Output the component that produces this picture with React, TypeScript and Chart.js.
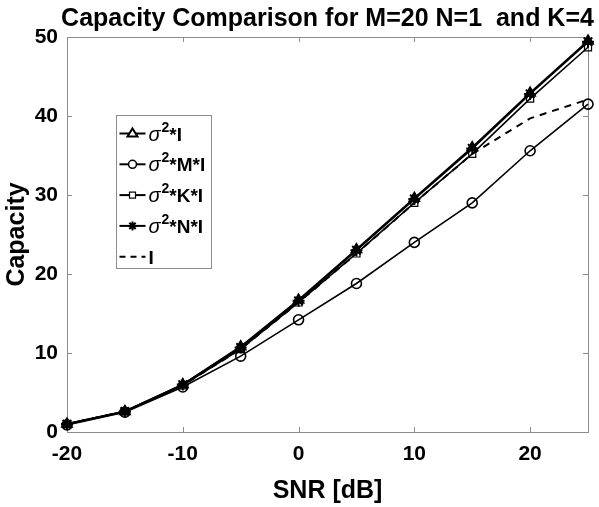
import React, { useEffect, useRef } from "react";
import { Chart, registerables } from "chart.js";

Chart.register(...registerables);

// ---- data ----
const snrDb = [-20, -15, -10, -5, 0, 5, 10, 15, 20, 25];
const capSigmaI = [1.0, 2.6, 6.0, 10.8, 16.7, 23.1, 29.6, 36.0, 42.9, 49.5];
const capSigmaMI = [0.9, 2.5, 5.7, 9.6, 14.2, 18.8, 24.0, 29.0, 35.6, 41.5];
const capSigmaKI = [1.0, 2.6, 5.9, 10.5, 16.4, 22.6, 29.0, 35.2, 42.2, 48.7];
const capSigmaNI = [1.0, 2.6, 6.0, 10.7, 16.6, 23.0, 29.5, 35.9, 42.8, 49.4];
const capI = [1.0, 2.6, 5.9, 10.5, 16.4, 22.6, 29.0, 35.2, 39.7, 42.1];

const xTicks = [-20, -10, 0, 10, 20];
const yTicks = [0, 10, 20, 30, 40, 50];

const titleText = "Capacity Comparison for M=20 N=1  and K=4";
const xLabel = "SNR [dB]";
const yLabel = "Capacity";
const legendLabels = ["σ^2*I", "σ^2*M*I", "σ^2*K*I", "σ^2*N*I", "I"];
const legendMarkers = ["triangle", "circle", "rect", "star", "dash"];

const FONT = '"Liberation Sans", Arial, Helvetica, sans-serif';

function pts(arr: number[]) {
  return snrDb.map((x, i) => ({ x, y: arr[i] }));
}

function drawLegendMarker(ctx: CanvasRenderingContext2D, kind: string, x: number, y: number) {
  ctx.save();
  ctx.strokeStyle = "#000";
  ctx.fillStyle = "#fff";
  ctx.lineWidth = 1.6;
  if (kind === "triangle") {
    ctx.lineWidth = 2;
    ctx.beginPath();
    ctx.moveTo(x, y - 5);
    ctx.lineTo(x + 5, y + 3);
    ctx.lineTo(x - 5, y + 3);
    ctx.closePath();
    ctx.fill();
    ctx.stroke();
  } else if (kind === "circle") {
    ctx.beginPath();
    ctx.arc(x, y, 4, 0, Math.PI * 2);
    ctx.fill();
    ctx.stroke();
  } else if (kind === "rect") {
    ctx.lineWidth = 1.2;
    ctx.fillRect(x - 3, y - 3, 6, 6);
    ctx.strokeRect(x - 3, y - 3, 6, 6);
  } else if (kind === "star") {
    ctx.lineWidth = 2;
    ctx.beginPath();
    const r = 4.5;
    for (let k = 0; k < 4; k++) {
      const a = (k * Math.PI) / 4;
      ctx.moveTo(x - r * Math.cos(a), y - r * Math.sin(a));
      ctx.lineTo(x + r * Math.cos(a), y + r * Math.sin(a));
    }
    ctx.stroke();
  }
  ctx.restore();
}

export default function App() {
  const ref = useRef<HTMLCanvasElement>(null);

  useEffect(() => {
    const canvas = ref.current;
    if (!canvas) return;

    const decor = {
      id: "matlabDecor",
      beforeDatasetsDraw(chart: any) {
        const { ctx, chartArea: a, scales } = chart;
        ctx.save();
        ctx.strokeStyle = "#8c8c8c";
        ctx.lineWidth = 1;
        ctx.strokeRect(Math.round(a.left) + 0.5, Math.round(a.top) + 0.5, Math.round(a.right - a.left), Math.round(a.bottom - a.top));
        ctx.beginPath();
        const tl = 5;
        for (const v of xTicks) {
          const px = Math.round(scales.x.getPixelForValue(v)) + 0.5;
          ctx.moveTo(px, a.bottom);
          ctx.lineTo(px, a.bottom - tl);
          ctx.moveTo(px, a.top);
          ctx.lineTo(px, a.top + tl);
        }
        for (const v of yTicks) {
          const py = Math.round(scales.y.getPixelForValue(v)) + 0.5;
          ctx.moveTo(a.left, py);
          ctx.lineTo(a.left + tl, py);
          ctx.moveTo(a.right, py);
          ctx.lineTo(a.right - tl, py);
        }
        ctx.stroke();
        ctx.restore();
      },
      afterDatasetsDraw(chart: any) {
        const { ctx, chartArea: a } = chart;
        const bx = Math.round(a.left) + 49.5;
        const by = Math.round(a.top) + 78.5;
        const bw = 95;
        const bh = 153;
        ctx.save();
        ctx.fillStyle = "#fff";
        ctx.fillRect(bx, by, bw, bh);
        ctx.strokeStyle = "#8c8c8c";
        ctx.lineWidth = 1;
        ctx.strokeRect(bx, by, bw, bh);
        legendLabels.forEach((label, i) => {
          const ry = by + 18 + i * 30.8;
          const lx0 = bx + 3;
          const lx1 = bx + 29;
          const kind = legendMarkers[i];
          ctx.strokeStyle = "#000";
          ctx.lineWidth = 2;
          ctx.setLineDash(kind === "dash" ? [6, 5] : []);
          ctx.beginPath();
          ctx.moveTo(lx0, ry);
          ctx.lineTo(lx1, ry);
          ctx.stroke();
          ctx.setLineDash([]);
          if (kind !== "dash") drawLegendMarker(ctx, kind, (lx0 + lx1) / 2, ry);
          // text
          let tx = bx + 32;
          const base = ry + 7;
          ctx.fillStyle = "#000";
          ctx.textBaseline = "alphabetic";
          ctx.textAlign = "left";
          const parts = label.split("^");
          if (parts.length === 2) {
            const sym = parts[0];
            const sup = parts[1].charAt(0);
            const rest = parts[1].slice(1);
            ctx.font = `italic 20px ${FONT}`;
            ctx.fillText(sym, tx, base);
            tx += ctx.measureText(sym).width + 1;
            ctx.font = `bold 14px ${FONT}`;
            ctx.fillText(sup, tx, base - 9);
            tx += ctx.measureText(sup).width;
            ctx.font = `bold 19px ${FONT}`;
            ctx.fillText(rest, tx, base);
          } else {
            ctx.font = `bold 19px ${FONT}`;
            ctx.fillText(label, tx, base);
          }
        });
        ctx.restore();
      },
      afterDraw(chart: any) {
        const { ctx, chartArea: a } = chart;
        ctx.save();
        ctx.fillStyle = "#000";
        ctx.font = `bold 25px ${FONT}`;
        ctx.textAlign = "center";
        ctx.textBaseline = "alphabetic";
        ctx.fillText(titleText, (a.left + a.right) / 2, 26);
        ctx.restore();
      },
    };

    const common = { clip: false as any, tension: 0, borderColor: "#000", pointBorderColor: "#000" };

    const chart = new Chart(canvas, {
      type: "line",
      data: {
        datasets: [
          {
            ...common,
            label: legendLabels[0],
            data: pts(capSigmaI),
            borderWidth: 2,
            pointStyle: "triangle",
            pointRadius: 6,
            pointBackgroundColor: "#000",
            pointBorderWidth: 1.5,
          },
          {
            ...common,
            label: legendLabels[1],
            data: pts(capSigmaMI),
            borderWidth: 1.6,
            pointStyle: "circle",
            pointRadius: 5,
            pointBackgroundColor: "rgba(0,0,0,0)",
            pointBorderWidth: 1.6,
          },
          {
            ...common,
            label: legendLabels[2],
            data: pts(capSigmaKI),
            borderWidth: 1.6,
            pointStyle: "rect",
            pointRadius: 5,
            pointBackgroundColor: "rgba(0,0,0,0)",
            pointBorderWidth: 1.2,
          },
          {
            ...common,
            label: legendLabels[3],
            data: pts(capSigmaNI),
            borderWidth: 2,
            pointStyle: "star",
            pointRadius: 6,
            pointBorderWidth: 2,
          },
          {
            ...common,
            label: legendLabels[4],
            data: pts(capI),
            borderWidth: 2,
            borderDash: [7, 6],
            pointRadius: 0,
          },
        ],
      },
      options: {
        responsive: false,
        animation: false,
        devicePixelRatio: 1,
        layout: { padding: { top: 37, right: 11, left: 0, bottom: 0 } },
        plugins: {
          legend: { display: false },
          title: { display: false },
          tooltip: { enabled: false },
        },
        scales: {
          x: {
            type: "linear",
            min: -20,
            max: 25,
            afterBuildTicks: (s: any) => {
              s.ticks = xTicks.map((v) => ({ value: v }));
            },
            afterFit: (s: any) => {
              s.height = 75;
            },
            grid: { display: false, drawTicks: false },
            border: { display: false },
            ticks: {
              color: "#000",
              padding: 10,
              maxRotation: 0,
              autoSkip: false,
              font: { family: FONT, size: 21, weight: "bold" },
            },
            title: {
              display: true,
              text: xLabel,
              color: "#000",
              font: { family: FONT, size: 25, weight: "bold" },
              padding: { top: 0, bottom: 1 },
            },
          },
          y: {
            type: "linear",
            min: 0,
            max: 50,
            afterBuildTicks: (s: any) => {
              s.ticks = yTicks.map((v) => ({ value: v }));
            },
            afterFit: (s: any) => {
              s.width = 67;
            },
            grid: { display: false, drawTicks: false },
            border: { display: false },
            ticks: {
              color: "#000",
              padding: 9,
              autoSkip: false,
              font: { family: FONT, size: 21, weight: "bold" },
            },
            title: {
              display: true,
              text: yLabel,
              color: "#000",
              font: { family: FONT, size: 25, weight: "bold" },
              padding: { top: 2, bottom: 0 },
            },
          },
        },
      },
      plugins: [decor],
    } as any);

    return () => chart.destroy();
  }, []);

  return (
    <div style={{ position: "fixed", left: 0, top: 0, width: 599, height: 507, background: "#fff" }}>
      <canvas ref={ref} width={599} height={507} style={{ display: "block", width: 599, height: 507 }} />
    </div>
  );
}
